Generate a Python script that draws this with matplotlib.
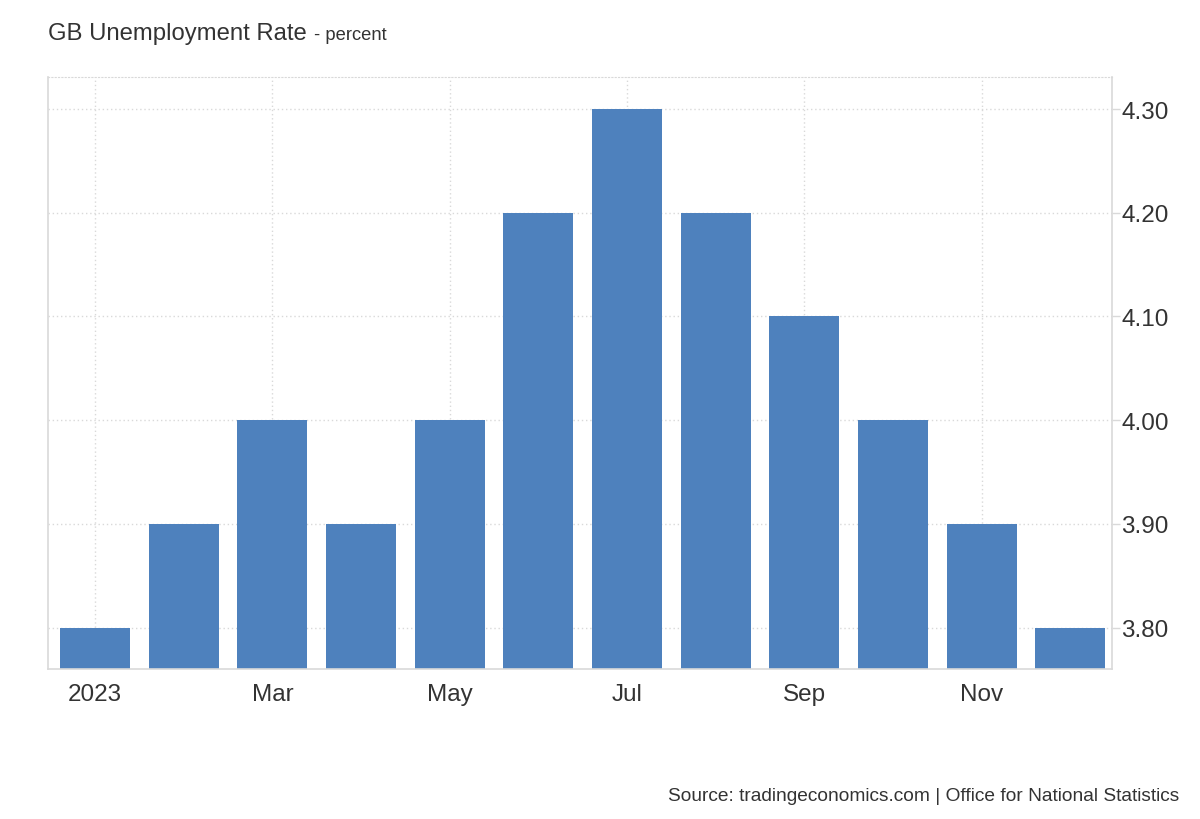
import matplotlib.pyplot as plt

plt.rcParams['font.family'] = ['Liberation Sans', 'DejaVu Sans']

# Monthly GB unemployment rate, 2023
months = ['Jan', 'Feb', 'Mar', 'Apr', 'May', 'Jun', 'Jul', 'Aug', 'Sep', 'Oct', 'Nov', 'Dec']
rates = [3.8, 3.9, 4.0, 3.9, 4.0, 4.2, 4.3, 4.2, 4.1, 4.0, 3.9, 3.8]
tick_months = [0, 2, 4, 6, 8, 10]
tick_labels = ['2023', 'Mar', 'May', 'Jul', 'Sep', 'Nov']
y_ticks = [3.8, 3.9, 4.0, 4.1, 4.2, 4.3]

text_color = '#333333'
grid_color = '#d9d9d9'

fig = plt.figure(figsize=(12, 8.2), dpi=100)
ax = fig.add_axes([0.04, 0.1829, 0.8867, 0.722])

x = list(range(len(months)))
ax.bar(x, rates, width=0.79, color='#4e81bd', zorder=2)

ax.set_xlim(-0.53, 11.47)
ax.set_ylim(3.76, 4.331)

# ticks and labels
ax.set_xticks(tick_months)
ax.set_xticklabels(tick_labels)
ax.yaxis.tick_right()
ax.set_yticks(y_ticks)
ax.set_yticklabels([f'{v:.2f}' for v in y_ticks])
ax.tick_params(axis='x', length=0, pad=10, labelsize=17.5, labelcolor=text_color)
ax.tick_params(axis='y', length=6, width=1, color=grid_color, pad=0.5,
               labelsize=17.5, labelcolor=text_color)

# dotted grid
ax.grid(True, linestyle=(0, (1, 2)), color=grid_color, linewidth=1, zorder=0)
ax.set_axisbelow(True)

for side in ['left', 'right', 'bottom']:
    ax.spines[side].set_color(grid_color)
    ax.spines[side].set_linewidth(1.2)
ax.spines['top'].set_linestyle((0, (1, 2)))
ax.spines['top'].set_color(grid_color)

# titles
title = fig.text(0.04, 0.959, 'GB Unemployment Rate', fontsize=17.2, color=text_color, va='center')
fig.canvas.draw()
bb = title.get_window_extent().transformed(fig.transFigure.inverted())
fig.text(bb.x1 + 0.006, 0.957, '- percent', fontsize=13.2, color=text_color, va='center')
fig.text(0.983, 0.029, 'Source: tradingeconomics.com | Office for National Statistics',
         fontsize=13.8, color=text_color, ha='right', va='center')

fig.savefig('out.png', dpi=100)
